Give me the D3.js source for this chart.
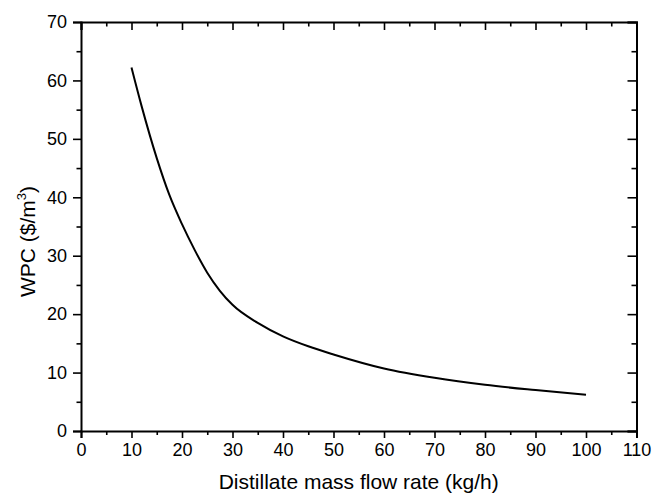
<!DOCTYPE html>
<html>
  <head>
    <meta charset="utf-8">
    <title>WPC vs distillate flow</title>
    <script src="https://d3js.org/d3.v7.min.js"></script>
  </head>
  <style>
    body { margin: 0; background: #fff; }
    text { font-family: "Liberation Sans", Arial, sans-serif; fill: #000; }
    .curve { fill: none; stroke: #000; stroke-width: 2; }
    .frame line, .frame path { stroke: #000; }
  </style>
  <body>
    <script type="text/javascript">
        var width = 653;
        var height = 494;

        // values
        const flowRate = [10, 12, 15, 17.5, 20, 22.5, 25, 27.5, 30, 35, 40, 45, 50, 60, 70, 80, 90, 100];
        const wpc = [62.2, 55.6, 46.7, 40.4, 35.4, 31.0, 27.1, 24.0, 21.6, 18.5, 16.2, 14.5, 13.1, 10.7, 9.1, 7.9, 7.0, 6.2];
        const xTicks = [0, 10, 20, 30, 40, 50, 60, 70, 80, 90, 100, 110];
        const yTicks = [0, 10, 20, 30, 40, 50, 60, 70];

        const m = {left: 81, right: 653 - 636.5, top: 22, bottom: 494 - 431};
        const svg = d3.select('body').append('svg').attr('width', width).attr('height', height);

        const x = d3.scaleLinear().domain([0, 110]).range([m.left, width - m.right]);
        const y = d3.scaleLinear().domain([0, 70]).range([height - m.bottom, m.top]);

        const xMinor = d3.range(5, 110, 10);
        const yMinor = d3.range(5, 70, 10);

        function styleAxis(g) {
          g.select('.domain').attr('stroke-width', 2);
          g.selectAll('.tick line').attr('stroke-width', 1.6);
          g.selectAll('text').style('font-size', '18px');
        }

        // bottom: ticks outward
        svg.append('g').attr('class', 'frame').attr('transform', `translate(0,${y(0)})`)
          .call(d3.axisBottom(x).tickValues(xTicks).tickSize(7).tickPadding(5).tickFormat(d3.format('d')))
          .call(styleAxis);
        svg.append('g').attr('class', 'frame').attr('transform', `translate(0,${y(0)})`)
          .call(d3.axisBottom(x).tickValues(xMinor).tickSize(4).tickFormat(''))
          .call(g => g.select('.domain').remove()).call(styleAxis);

        // left: ticks outward
        svg.append('g').attr('class', 'frame').attr('transform', `translate(${x(0)},0)`)
          .call(d3.axisLeft(y).tickValues(yTicks).tickSize(8).tickPadding(6).tickFormat(d3.format('d')))
          .call(styleAxis);
        svg.append('g').attr('class', 'frame').attr('transform', `translate(${x(0)},0)`)
          .call(d3.axisLeft(y).tickValues(yMinor).tickSize(4.5).tickFormat(''))
          .call(g => g.select('.domain').remove()).call(styleAxis);

        // top: ticks inward
        svg.append('g').attr('class', 'frame').attr('transform', `translate(0,${y(70)})`)
          .call(d3.axisBottom(x).tickValues(xTicks).tickSize(8).tickFormat(''))
          .call(styleAxis);
        svg.append('g').attr('class', 'frame').attr('transform', `translate(0,${y(70)})`)
          .call(d3.axisBottom(x).tickValues(xMinor).tickSize(4.5).tickFormat(''))
          .call(g => g.select('.domain').remove()).call(styleAxis);

        // right: ticks inward
        svg.append('g').attr('class', 'frame').attr('transform', `translate(${x(110)},0)`)
          .call(d3.axisLeft(y).tickValues(yTicks).tickSize(9).tickFormat(''))
          .call(styleAxis);
        svg.append('g').attr('class', 'frame').attr('transform', `translate(${x(110)},0)`)
          .call(d3.axisLeft(y).tickValues(yMinor).tickSize(5).tickFormat(''))
          .call(g => g.select('.domain').remove()).call(styleAxis);

        const line = d3.line().x((d, i) => x(flowRate[i])).y(d => y(d)).curve(d3.curveMonotoneX);
        svg.append('path').datum(wpc).attr('class', 'curve').attr('d', line);

        svg.append('text')
          .attr('x', (x(0) + x(110)) / 2).attr('y', 489)
          .attr('text-anchor', 'middle').style('font-size', '21px')
          .text('Distillate mass flow rate (kg/h)');

        const yl = svg.append('text')
          .attr('transform', `translate(35,${(y(0) + y(70)) / 2 + 15}) rotate(-90)`)
          .attr('text-anchor', 'middle').style('font-size', '21px');
        yl.append('tspan').text('WPC ($/m');
        yl.append('tspan').attr('dy', -9).style('font-size', '13px').text('3');
        yl.append('tspan').attr('dy', 9).text(')');
    </script>
  </body>
</html>
